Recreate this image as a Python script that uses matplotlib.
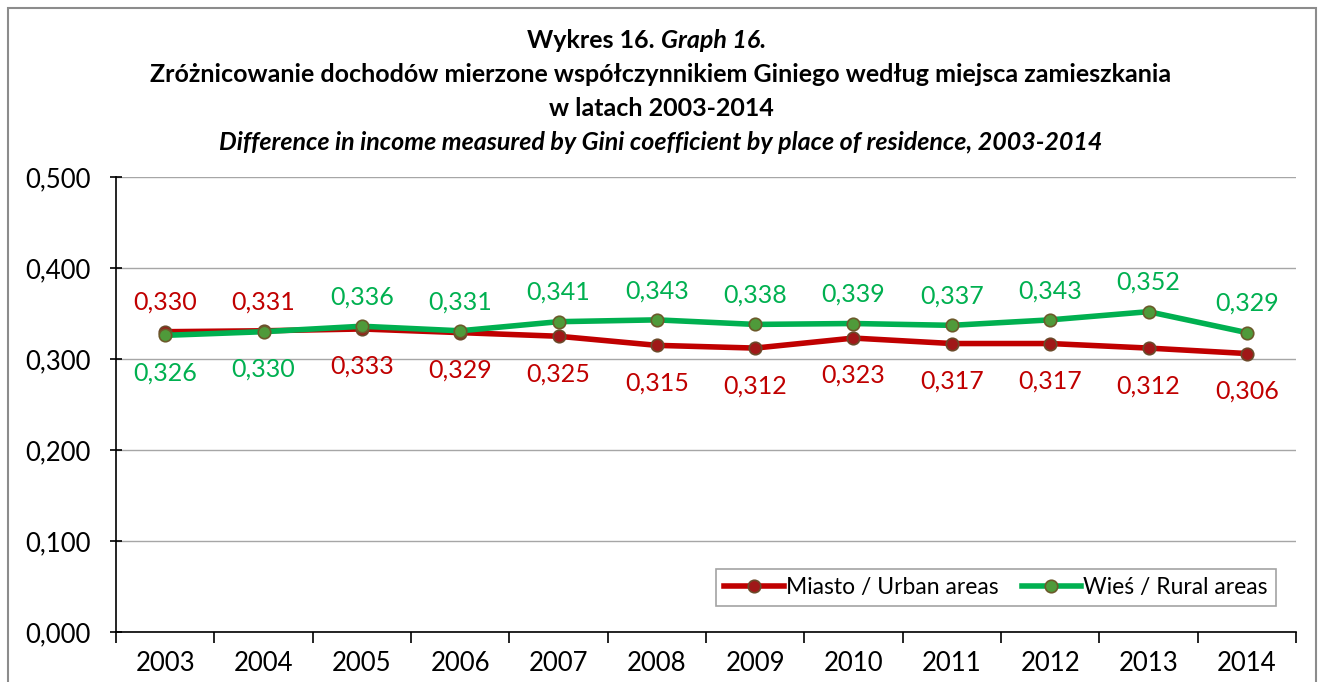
import matplotlib.pyplot as plt
from matplotlib.patches import Rectangle

years = ['2003', '2004', '2005', '2006', '2007', '2008', '2009', '2010', '2011', '2012', '2013', '2014']
urban = [0.330, 0.331, 0.333, 0.329, 0.325, 0.315, 0.312, 0.323, 0.317, 0.317, 0.312, 0.306]
rural = [0.326, 0.330, 0.336, 0.331, 0.341, 0.343, 0.338, 0.339, 0.337, 0.343, 0.352, 0.329]
yticks = [0.0, 0.1, 0.2, 0.3, 0.4, 0.5]

red = '#C00000'
green = '#00B050'

plt.rcParams['font.family'] = ['Lato', 'DejaVu Sans']

fig = plt.figure(figsize=(13.22, 6.82), dpi=100)
ax = fig.add_axes([116 / 1322, 1 - 632 / 682, (1296 - 116) / 1322, (632 - 177) / 682])

# outer frame of the chart area
fig.patches.append(Rectangle((8 / 1322, -0.01), (1316 - 8) / 1322, 1 - 8 / 682 + 0.01,
                             transform=fig.transFigure, fill=False, edgecolor='#8c8c8c', lw=1.5))

x = list(range(len(years)))
ax.plot(x, urban, color=red, lw=4, marker='o', ms=9, mfc='#A01818', mec='#6b4a2a', mew=1.2,
        label='Miasto / Urban areas', zorder=3)
ax.plot(x, rural, color=green, lw=4, marker='o', ms=9, mfc='#4f9a3a', mec='#6b5a2a', mew=1.2,
        label='Wieś / Rural areas', zorder=3)

for i in x:
    u_up = urban[i] >= rural[i]
    ax.annotate(f'{urban[i]:.3f}'.replace('.', ','), (i, urban[i]), xytext=(0, 21 if u_up else -27),
                textcoords='offset points', ha='center', va='center', color=red, fontsize=18)
    ax.annotate(f'{rural[i]:.3f}'.replace('.', ','), (i, rural[i]), xytext=(0, -27 if u_up else 21),
                textcoords='offset points', ha='center', va='center', color=green, fontsize=18)

ax.set_xlim(-0.5, len(years) - 0.5)
ax.set_ylim(0, 0.5)
ax.set_yticks(yticks)
ax.set_yticklabels([f'{v:.3f}'.replace('.', ',') for v in yticks], fontsize=18.5)
ax.yaxis.grid(True, color='#a6a6a6', lw=1)
ax.set_axisbelow(True)
ax.set_xticks([i + 0.5 for i in range(-1, len(years))], minor=False)
ax.set_xticklabels([])
ax.set_xticks(x, minor=True)
ax.set_xticklabels(years, minor=True, fontsize=18.5)
ax.tick_params(axis='x', which='major', length=8, direction='out', width=1.2)
ax.tick_params(axis='x', which='minor', length=0, pad=14)
ax.tick_params(axis='y', length=8, direction='inout', width=1.2, pad=14)
for s in ['top', 'right']:
    ax.spines[s].set_visible(False)
for s in ['left', 'bottom']:
    ax.spines[s].set_linewidth(1.2)
    ax.spines[s].set_color('black')

leg = ax.legend(loc='lower right', bbox_to_anchor=(1276 / 1322, 1 - 606 / 682),
                bbox_transform=fig.transFigure, ncol=2, fontsize=16.5, frameon=True, fancybox=False,
                edgecolor='#8c8c8c', handlelength=2.6, handletextpad=0.1, columnspacing=1.0,
                borderpad=0.35, borderaxespad=0)
leg.get_frame().set_linewidth(1.2)

fig.text(0.5, 1 - 40 / 682, 'Wykres 16. ', ha='right', va='center', fontsize=18, fontweight='bold')
fig.text(0.5, 1 - 40 / 682, 'Graph 16.', ha='left', va='center', fontsize=18, fontweight='bold',
         style='italic')
fig.text(0.5, 1 - 74 / 682, 'Zróżnicowanie dochodów mierzone współczynnikiem Giniego według miejsca zamieszkania',
         ha='center', va='center', fontsize=18, fontweight='bold')
fig.text(0.5, 1 - 108 / 682, 'w latach 2003-2014', ha='center', va='center', fontsize=18, fontweight='bold')
fig.text(0.5, 1 - 142 / 682, 'Difference in income measured by Gini coefficient by place of residence, 2003-2014',
         ha='center', va='center', fontsize=18, fontweight='bold', style='italic')

fig.savefig('out.png', dpi=100)
